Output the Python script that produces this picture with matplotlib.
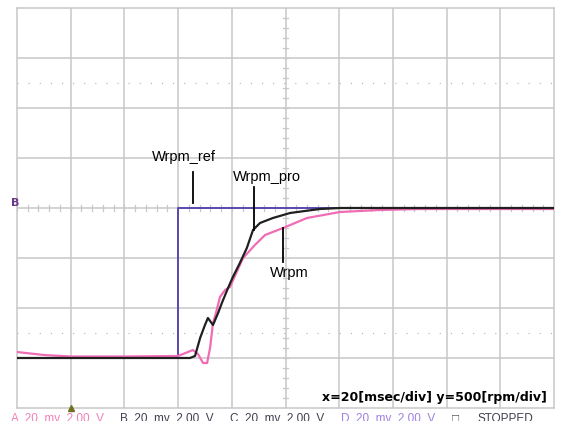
import numpy as np
import matplotlib.pyplot as plt

# time in ms, speed in rpm (20 ms/div, 500 rpm/div)
ref_t = [0, 60, 60, 200]
ref_w = [0, 0, 1500, 1500]

pro_t = [0, 20, 40, 60, 64.4, 66.3, 68.2, 70.0, 71.1, 73.0, 74.9, 76.3, 78.6, 80.4,
         83.0, 85.6, 87.9, 90.5, 95.3, 101.7, 107.2, 112.8, 120.3, 160, 200]
pro_w = [0, 0, 0, 0, 0, 20, 200, 330, 400, 330, 450, 550, 700, 810,
         950, 1100, 1280, 1350, 1400, 1450, 1470, 1490, 1500, 1500, 1500]

w_t = [0, 10, 20, 40, 60, 65.5, 67.4, 69.3, 70.8, 71.9, 73.0, 74.1, 75.6, 77.5, 79.3,
       84.2, 88.6, 92.4, 99.1, 108, 120.3, 135, 150, 175, 200]
w_w = [60, 30, 15, 15, 20, 80, 40, -50, -50, 100, 350, 450, 610, 680, 710,
       1000, 1130, 1230, 1300, 1400, 1460, 1480, 1490, 1490, 1490]

fig = plt.figure(figsize=(5.62, 4.21), dpi=100)
ax = fig.add_axes([17 / 562, 1 - 408 / 421, 537 / 562, 400 / 421])
ax.set_xlim(0, 200)
ax.set_ylim(-500, 3500)

grid_c = '#c8c8c8'
for x in np.arange(20, 200, 20):
    ax.axvline(x, color=grid_c, lw=1.1, zorder=1)
for y in np.arange(0, 3500, 500):
    ax.axhline(y, color=grid_c, lw=1.1, zorder=1)
for s in ax.spines.values():
    s.set_color(grid_c)
    s.set_linewidth(1.1)
ax.set_xticks([])
ax.set_yticks([])

# minor ticks on the centre axes
for y in np.arange(-500, 3500, 100):
    ax.plot([99.0, 101.0], [y, y], color=grid_c, lw=0.9, zorder=1)
for x in np.arange(0, 200, 4):
    ax.plot([x, x], [1470, 1530], color=grid_c, lw=0.9, zorder=1)

# dotted cursor lines
for y in [2750, 250]:
    ax.axhline(y, color='#b0b0b0', lw=0.8, ls=(0, (1, 9)), zorder=1)

ax.plot(ref_t, ref_w, color='#5a48b0', lw=1.4, zorder=3)
ax.plot(w_t, w_w, color='#f06cb4', lw=1.6, zorder=4)
ax.plot(pro_t, pro_w, color='#202020', lw=1.6, zorder=5)

# labels with pointer lines
ax.text(62.2, 2010, 'Wrpm_ref', ha='center', va='center', fontsize=10.5,
        family='Liberation Sans', zorder=6)
ax.plot([65.5, 65.5], [1860, 1550], color='black', lw=1.3, zorder=6)
ax.text(93.1, 1810, 'Wrpm_pro', ha='center', va='center', fontsize=10.5,
        family='Liberation Sans', zorder=6)
ax.plot([88.3, 88.3], [1710, 1280], color='black', lw=1.3, zorder=6)
ax.text(101.5, 850, 'Wrpm', ha='center', va='center', fontsize=10.5,
        family='Liberation Sans', zorder=6)
ax.plot([99.1, 99.1], [1300, 960], color='black', lw=1.3, zorder=6)

ax.text(197.5, -400, 'x=20[msec/div] y=500[rpm/div]', ha='right', va='center',
        fontsize=9, fontweight='bold', family=['Liberation Sans Narrow', 'DejaVu Sans'],
        zorder=6)

# channel marker and trigger marker
fig.text(15 / 562, 1 - 203 / 421, 'B', ha='center', va='center', fontsize=8,
         fontweight='bold', color='#6a3a8a')
ax.plot([20], [-500], marker='^', color='#707020', ms=5, clip_on=False, zorder=6)

# status line at the bottom (cut off by the image edge)
status = [('A  20  mv  2.00  V', '#f080b8', 11),
          ('B  20  mv  2.00  V', '#404050', 120),
          ('C  20  mv  2.00  V', '#404050', 230),
          ('D  20  mv  2.00  V', '#a080e0', 341),
          ('\u25a1', '#404050', 452),
          ('STOPPED', '#404050', 478)]
for txt, col, px in status:
    fig.text(px / 562, 1 - 413 / 421, txt, ha='left', va='top', fontsize=8.5,
             color=col, family=['Liberation Sans', 'DejaVu Sans'])

fig.savefig('out.png', dpi=100)
